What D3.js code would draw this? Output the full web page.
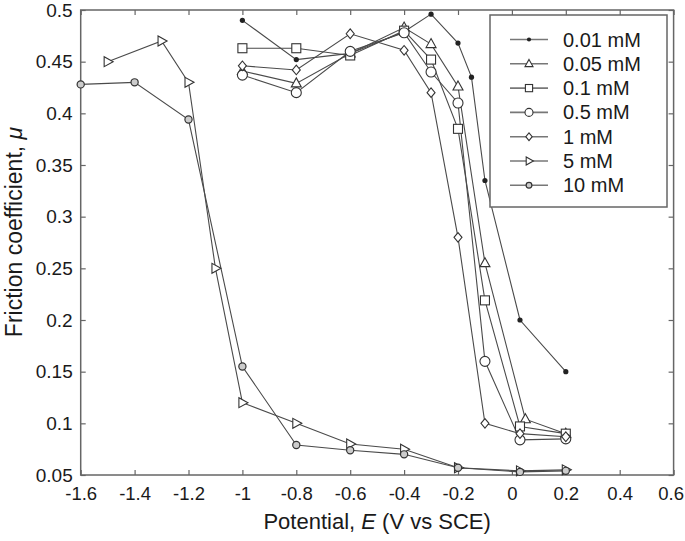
<!DOCTYPE html>
<html>
<head>
<meta charset="utf-8">
<script src="https://cdn.jsdelivr.net/npm/d3@7"></script>
<style>
  body { margin: 0; background: #fff; }
  text { font-family: "Liberation Sans", Arial, sans-serif; fill: #1a1a1a; }
</style>
</head>
<body>
<div id="chart"></div>
<script>
// ----- DATA -----
// Friction coefficient vs potential
const seriesNames = ["0.01 mM", "0.05 mM", "0.1 mM", "0.5 mM", "1 mM", "5 mM", "10 mM"];

const potential001 = [-1.0, -0.8, -0.6, -0.4, -0.3, -0.2, -0.15, -0.1, 0.03, 0.2];
const mu001 = [0.490, 0.452, 0.458, 0.479, 0.496, 0.468, 0.435, 0.335, 0.200, 0.150];

const potential005 = [-1.0, -0.8, -0.6, -0.4, -0.3, -0.2, -0.1, 0.05, 0.2];
const mu005 = [0.441, 0.429, 0.458, 0.483, 0.467, 0.426, 0.255, 0.104, 0.090];

const potential01 = [-1.0, -0.8, -0.6, -0.4, -0.3, -0.2, -0.1, 0.03, 0.2];
const mu01 = [0.463, 0.463, 0.456, 0.480, 0.452, 0.385, 0.219, 0.097, 0.090];

const potential05 = [-1.0, -0.8, -0.6, -0.4, -0.3, -0.2, -0.1, 0.03, 0.2];
const mu05 = [0.437, 0.420, 0.460, 0.478, 0.440, 0.410, 0.160, 0.084, 0.085];

const potential1 = [-1.0, -0.8, -0.6, -0.4, -0.3, -0.2, -0.1, 0.03, 0.2];
const mu1 = [0.446, 0.442, 0.477, 0.461, 0.420, 0.280, 0.100, 0.090, 0.087];

const potential5 = [-1.5, -1.3, -1.2, -1.1, -1.0, -0.8, -0.6, -0.4, -0.2, 0.03, 0.2];
const mu5 = [0.450, 0.470, 0.430, 0.250, 0.120, 0.100, 0.080, 0.075, 0.057, 0.054, 0.055];

const potential10 = [-1.6, -1.4, -1.2, -1.0, -0.8, -0.6, -0.4, -0.2, 0.03, 0.2];
const mu10 = [0.428, 0.430, 0.394, 0.155, 0.079, 0.074, 0.070, 0.057, 0.053, 0.054];

const xTicks = [-1.6, -1.4, -1.2, -1, -0.8, -0.6, -0.4, -0.2, 0, 0.2, 0.4, 0.6];
const yTicks = [0.05, 0.1, 0.15, 0.2, 0.25, 0.3, 0.35, 0.4, 0.45, 0.5];

// marker type per series
const markerTypes = ["dot", "triangle", "square", "circle", "diamond", "right", "smallcircle"];

const xsList = [potential001, potential005, potential01, potential05, potential1, potential5, potential10];
const ysList = [mu001, mu005, mu01, mu05, mu1, mu5, mu10];

const series = seriesNames.map((name, i) => ({
  name: name,
  marker: markerTypes[i],
  points: xsList[i].map((x, j) => ({ x: x, y: ysList[i][j] }))
}));

// ----- SVG -----
const width = 685, height = 541;
const margins = { top: 10, right: 11.4, bottom: 66, left: 80.7 };

const svg = d3.select("#chart")
  .append("svg")
  .attr("width", width)
  .attr("height", height);

const x = d3.scaleLinear()
  .domain([-1.6, 0.6])
  .range([margins.left, width - margins.right]);

const y = d3.scaleLinear()
  .domain([0.05, 0.5])
  .range([height - margins.bottom, margins.top]);

const fmt = d => String(+d.toFixed(2));
const lineColor = "#4a4a4a";

// ----- AXES (ticks inside, on all four sides) -----
const axisColor = "#666";

function styleAxis(g) {
  g.select(".domain").remove();
  g.selectAll(".tick line").attr("stroke", axisColor).attr("stroke-width", 1.2);
}

svg.append("g")
  .attr("transform", `translate(0,${y.range()[0]})`)
  .call(d3.axisBottom(x).tickValues(xTicks).tickFormat(fmt).tickSizeInner(-5).tickSizeOuter(0).tickPadding(12))
  .call(styleAxis)
  .selectAll("text")
    .style("font-size", "18.5px")
    .attr("fill", "#1a1a1a")
    // last label sits at the window edge, nudge it in a little
    .attr("dx", (d, i) => i === xTicks.length - 1 ? -3 : 0);

svg.append("g")
  .attr("transform", `translate(0,${y.range()[1]})`)
  .call(d3.axisTop(x).tickValues(xTicks).tickFormat("").tickSizeInner(-5).tickSizeOuter(0))
  .call(styleAxis);

svg.append("g")
  .attr("transform", `translate(${x.range()[0]},0)`)
  .call(d3.axisLeft(y).tickValues(yTicks).tickFormat(fmt).tickSizeInner(-5).tickSizeOuter(0).tickPadding(8))
  .call(styleAxis)
  .selectAll("text")
    .style("font-size", "19px")
    .attr("fill", "#1a1a1a");

svg.append("g")
  .attr("transform", `translate(${x.range()[1]},0)`)
  .call(d3.axisRight(y).tickValues(yTicks).tickFormat("").tickSizeInner(-5).tickSizeOuter(0))
  .call(styleAxis);

// plot frame
svg.append("rect")
  .attr("x", x.range()[0])
  .attr("y", y.range()[1])
  .attr("width", x.range()[1] - x.range()[0])
  .attr("height", y.range()[0] - y.range()[1])
  .attr("fill", "none")
  .attr("stroke", axisColor)
  .attr("stroke-width", 1.5);

// ----- LINES -----
const line = d3.line().x(d => x(d.x)).y(d => y(d.y));

svg.append("g")
  .selectAll("path")
  .data(series)
  .join("path")
    .attr("d", d => line(d.points))
    .attr("fill", "none")
    .attr("stroke", lineColor)
    .attr("stroke-width", 1.1);

// ----- MARKERS -----
function drawMarker(g, type, cx, cy, k = 1) {
  const stroke = "#333";
  if (type === "dot") {
    g.append("circle").attr("cx", cx).attr("cy", cy).attr("r", 2.6 * k).attr("fill", "#222");
  } else if (type === "circle") {
    g.append("circle").attr("cx", cx).attr("cy", cy).attr("r", 5 * k)
      .attr("fill", "#fff").attr("stroke", stroke).attr("stroke-width", 1.1);
  } else if (type === "smallcircle") {
    g.append("circle").attr("cx", cx).attr("cy", cy).attr("r", 3.6 * k)
      .attr("fill", "#ccc").attr("stroke", stroke).attr("stroke-width", 1.2);
  } else if (type === "square") {
    const s = 4.5 * k;
    g.append("rect").attr("x", cx - s).attr("y", cy - s).attr("width", 2 * s).attr("height", 2 * s)
      .attr("fill", "#fff").attr("stroke", stroke).attr("stroke-width", 1.1);
  } else if (type === "triangle") {
    g.append("path").attr("d", `M${cx},${cy - 5.5 * k}L${cx + 5 * k},${cy + 3.5 * k}L${cx - 5 * k},${cy + 3.5 * k}Z`)
      .attr("fill", "#fff").attr("stroke", stroke).attr("stroke-width", 1.1);
  } else if (type === "right") {
    g.append("path").attr("d", `M${cx + 5.5 * k},${cy}L${cx - 3.5 * k},${cy - 5 * k}L${cx - 3.5 * k},${cy + 5 * k}Z`)
      .attr("fill", "#fff").attr("stroke", stroke).attr("stroke-width", 1.1);
  } else if (type === "diamond") {
    g.append("path").attr("d", `M${cx},${cy - 4.8 * k}L${cx + 4 * k},${cy}L${cx},${cy + 4.8 * k}L${cx - 4 * k},${cy}Z`)
      .attr("fill", "#fff").attr("stroke", stroke).attr("stroke-width", 1.1);
  }
}

const markerLayer = svg.append("g");
series.forEach(s => {
  s.points.forEach(p => drawMarker(markerLayer, s.marker, x(p.x), y(p.y)));
});

// ----- AXIS TITLES -----
const xTitle = svg.append("text")
  .attr("x", (x.range()[0] + x.range()[1]) / 2)
  .attr("y", 529)
  .attr("text-anchor", "middle")
  .style("font-size", "22px");
xTitle.append("tspan").text("Potential, ");
xTitle.append("tspan").style("font-style", "italic").text("E");
xTitle.append("tspan").text(" (V vs SCE)");

const yTitle = svg.append("text")
  .attr("transform", `translate(22,232) rotate(-90)`)
  .attr("text-anchor", "middle")
  .style("font-size", "23px");
yTitle.append("tspan").text("Friction coefficient, ");
yTitle.append("tspan").style("font-style", "italic").text("μ");

// ----- LEGEND -----
const legend = svg.append("g");
legend.append("rect")
  .attr("x", 490)
  .attr("y", 15)
  .attr("width", 177)
  .attr("height", 192)
  .attr("fill", "#fff")
  .attr("stroke", axisColor)
  .attr("stroke-width", 1.5);

series.forEach((s, i) => {
  const ly = 39.5 + i * 24.3;
  legend.append("line")
    .attr("x1", 510).attr("x2", 548)
    .attr("y1", ly).attr("y2", ly)
    .attr("stroke", "#777")
    .attr("stroke-width", 1.6);
  drawMarker(legend, s.marker, 529, ly, 0.8);
  legend.append("text")
    .attr("x", 563)
    .attr("y", ly)
    .attr("dy", "0.35em")
    .style("font-size", "20px")
    .text(s.name);
});
</script>
</body>
</html>
